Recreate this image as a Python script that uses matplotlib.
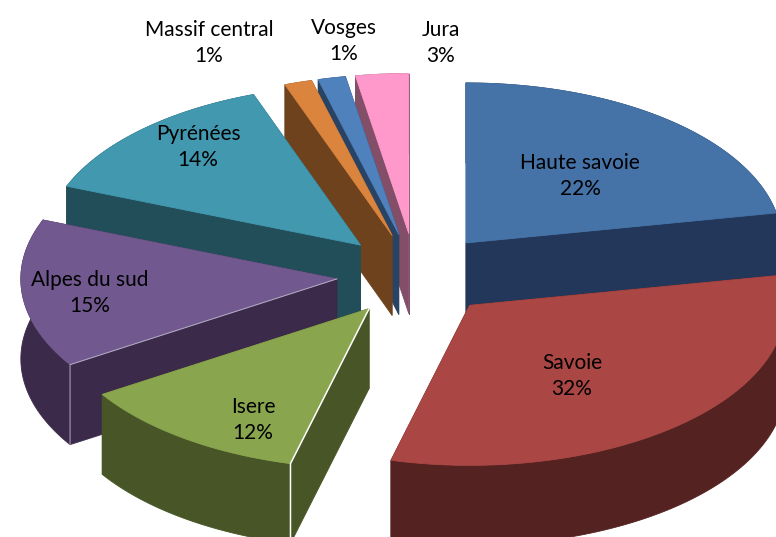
import numpy as np
import matplotlib
matplotlib.use("Agg")
import matplotlib.pyplot as plt
from matplotlib.patches import Polygon

# ---- data
categories = ["Haute savoie", "Savoie", "Isere", "Alpes du sud", "Pyrénées",
              "Massif central", "Vosges", "Jura"]
values = [22.0, 32.0, 12.0, 15.0, 13.5, 1.4, 1.4, 2.7]
top_colors = ["#4572A7", "#AA4643", "#89A54E", "#71588F", "#4198AF",
              "#DB843D", "#4F81BD", "#FF99CC"]
side_colors = ["#22375A", "#542221", "#475527", "#3B2A4A", "#224E5A",
               "#6F421E", "#284364", "#824E68"]
draw_order = [7, 6, 5, 4, 0, 3, 2, 1]
label_centers = [(580, 176), (572, 376), (253, 420), (90, 293), (198, 147),
                 (209, 43), (344, 41), (441, 43)]

# ---- layout of the tilted pie
W, H = 776, 537
CX, CY = 415.5, 275.0
RX, RY = 316.0, 160.0
EX, EY = 79.0, 41.6
DEPTH = 80.0

fig = plt.figure(figsize=(W / 100, H / 100), dpi=100)
ax = fig.add_axes([0, 0, 1, 1])
ax.set_xlim(0, W)
ax.set_ylim(H, 0)
ax.axis("off")

fractions = np.array(values) / np.sum(values)
edges = np.concatenate([[0], np.cumsum(fractions)]) * 2 * np.pi


def add(pts, color, z, edge=None, lw=0.6):
    ax.add_patch(Polygon(pts, closed=True, facecolor=color,
                         edgecolor=edge or color, linewidth=lw, zorder=z,
                         joinstyle="round"))


for rank, i in enumerate(draw_order):
    a0, a1 = edges[i], edges[i + 1]
    mid = (a0 + a1) / 2
    ax0 = CX + EX * np.sin(mid)
    ay0 = CY - EY * np.cos(mid)
    th = np.linspace(a0, a1, 120)
    ax_arc = ax0 + RX * np.sin(th)
    ay_arc = ay0 - RY * np.cos(th)
    z = 10 + rank
    side, top = side_colors[i], top_colors[i]
    arc = np.column_stack([ax_arc, ay_arc])
    down = np.array([0, DEPTH])
    apex = np.array([ax0, ay0])
    add([apex, arc[0], arc[0] + down, apex + down], side, z)
    add([apex, arc[-1], arc[-1] + down, apex + down], side, z)
    add(np.vstack([arc, (arc + down)[::-1]]), side, z)
    add(np.vstack([apex, arc]), top, z + 0.2)
    if categories[i] == "Isere":
        p = arc[0]
        ax.plot([apex[0], p[0], p[0]], [apex[1], p[1], p[1] + DEPTH],
                color="white", lw=1.1, zorder=z + 0.3)
    if categories[i] == "Alpes du sud":
        p = arc[0]
        ax.plot([apex[0], p[0], p[0]], [apex[1], p[1], p[1] + DEPTH],
                color="#B5AEC2", lw=0.7, zorder=z + 0.3)

for name, v, (x, y) in zip(categories, values, label_centers):
    ax.text(x, y, f"{name}\n{v:.0f}%", ha="center", va="center",
            family="Lato", fontsize=15, color="#000000", linespacing=1.35,
            zorder=50)

fig.savefig("out.png", dpi=100)
